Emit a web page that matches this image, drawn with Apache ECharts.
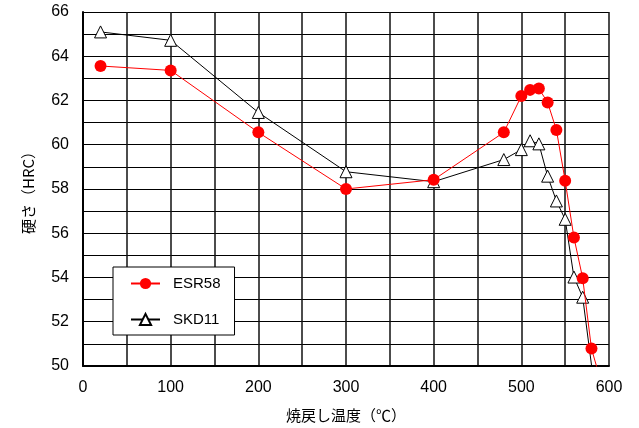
<!DOCTYPE html>
<html>
<head>
<meta charset="utf-8">
<script src="https://cdn.jsdelivr.net/npm/echarts@6/dist/echarts.min.js"></script>
<style>
html,body{margin:0;padding:0;background:#fff;}
#chart{width:639px;height:428px;}
</style>
</head>
<body>
<div id="chart"></div>
<script>
// Data
const esrTemps  = [20, 100, 200, 300, 400, 480, 500, 510, 520, 530, 540, 550, 560, 570, 580, 590];
const esrValues = [63.56, 63.36, 60.56, 58.0, 58.42, 60.56, 62.2, 62.48, 62.54, 61.91, 60.67, 58.37, 55.81, 53.97, 50.79, 49.4];
const skdTemps  = [20, 100, 200, 300, 400, 480, 500, 510, 520, 530, 540, 550, 560, 570, 590];
const skdValues = [65.1, 64.72, 61.46, 58.78, 58.33, 59.33, 59.78, 60.18, 60.04, 58.58, 57.46, 56.63, 54.02, 53.11, 47.0];
const seriesNames = ['ESR58', 'SKD11'];
const xTitle = '焼戻し温度（℃）';
const yTitle = '硬さ（HRC）';

const pair = (xs, ys) => xs.map((x, i) => [x, ys[i]]);
const numFont = '"Liberation Sans", Arial, sans-serif';
const jpFont = '"Noto Sans CJK JP", sans-serif';

const chart = echarts.init(document.getElementById('chart'));
chart.setOption({
  animation: false,
  backgroundColor: '#fff',
  grid: { left: 83, top: 12, width: 526, height: 356, containLabel: false },
  xAxis: {
    type: 'value', min: 0, max: 600, interval: 50,
    name: xTitle, nameLocation: 'middle', nameGap: 42,
    nameTextStyle: { fontFamily: jpFont, fontSize: 15, color: '#000' },
    axisLine: { show: true, lineStyle: { color: '#000', width: 2 } },
    axisTick: { show: false },
    axisLabel: {
      color: '#000', fontFamily: numFont, fontSize: 16, margin: 14,
      formatter: v => (v % 100 === 0 ? String(v) : '')
    },
    splitLine: { show: true, lineStyle: { color: '#111', width: 1.5 } }
  },
  yAxis: {
    type: 'value', min: 50, max: 66, interval: 1,
    name: yTitle, nameLocation: 'middle', nameGap: 47, nameRotate: 90,
    nameTextStyle: { fontFamily: jpFont, fontSize: 15, color: '#000' },
    axisLine: { show: true, lineStyle: { color: '#000', width: 2 } },
    axisTick: { show: false },
    axisLabel: {
      color: '#000', fontFamily: numFont, fontSize: 16, margin: 14,
      formatter: v => (v % 2 === 0 ? String(v) : '')
    },
    splitLine: { show: true, lineStyle: { color: '#000', width: 1.2 } }
  },
  legend: {
    orient: 'vertical', left: 113, top: 267,
    padding: [9, 14, 8, 17],
    itemWidth: 29, itemHeight: 14, itemGap: 21,
    backgroundColor: '#fff', borderColor: '#000', borderWidth: 1,
    textStyle: { fontFamily: numFont, fontSize: 15, color: '#000', padding: [0, 0, 0, 8] },
    data: seriesNames
  },
  series: [
    {
      name: seriesNames[0], type: 'line', data: pair(esrTemps, esrValues),
      symbol: 'circle', symbolSize: 12, clip: true,
      lineStyle: { color: '#ff0000', width: 1 },
      itemStyle: { color: '#ff0000', borderColor: '#ff0000', borderWidth: 0 },
      z: 3
    },
    {
      name: seriesNames[1], type: 'line', data: pair(skdTemps, skdValues),
      symbol: 'triangle', symbolSize: 12, clip: true,
      lineStyle: { color: '#000', width: 1 },
      itemStyle: { color: '#fff', borderColor: '#000', borderWidth: 1 },
      z: 2
    }
  ]
});
</script>
</body>
</html>
